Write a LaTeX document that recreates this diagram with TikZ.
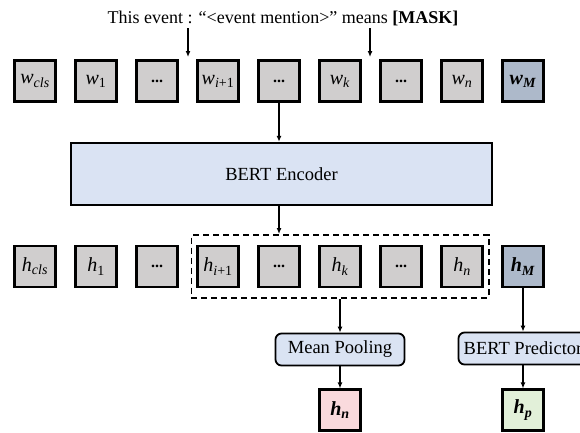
\documentclass[tikz,border=0pt]{standalone}
\usepackage{fontspec}
\setmainfont{Liberation Serif}
\usetikzlibrary{arrows.meta,fit}

\definecolor{tokgray}{HTML}{D0CECE}
\definecolor{maskblue}{HTML}{ADB9CA}
\definecolor{encblue}{HTML}{DAE3F3}
\definecolor{outpink}{HTML}{FADADD}
\definecolor{outgreen}{HTML}{E2F0D9}

\newcommand{\tok}[2]{\textit{#1}\textsubscript{#2}}
\newcommand{\btok}[2]{\textbf{\textit{#1}}\textsubscript{\textbf{\textit{#2}}}}
\newcommand{\tdots}{{\fontsize{16}{16}\selectfont\bfseries ...}}

\tikzset{
  tokbox/.style={draw, line width=2.1pt, fill=tokgray, minimum width=41pt,
    minimum height=41pt, inner sep=0pt, font=\fontsize{20}{22}\selectfont},
  maskbox/.style={tokbox, fill=maskblue},
  modbox/.style={draw, line width=1.8pt, fill=encblue, rounded corners=6pt,
    minimum width=129pt, minimum height=32pt, inner sep=0pt,
    font=\fontsize{18.5}{20}\selectfont},
  flow/.style={line width=1.3pt, -{Latex[length=6pt,width=5pt]}},
}

\begin{document}
\begin{tikzpicture}[x=1pt,y=-1pt]
\useasboundingbox (0,0) rectangle (580,432);

% prompt sentence and the two insertion arrows
\node[anchor=base, font=\fontsize{18}{20}\selectfont, inner sep=0pt] (prompt) at (283,23)
  {This event : “<event mention>” means \textbf{[MASK]}};
\coordinate (pa1) at (188,28);
\coordinate (pb1) at (188,57);
\coordinate (pa2) at (370,28);
\coordinate (pb2) at (370,57);
\draw[flow] (pa1) -- (pb1);
\draw[flow] (pa2) -- (pb2);

% input tokens
\node[tokbox] (w1) at (35,81)  {\tok{w}{\textit{cls}}};
\node[tokbox] (w2) at (96,81)  {\tok{w}{1}};
\node[tokbox] (w3) at (157,81) {\tdots};
\node[tokbox] (w4) at (218,81) {\tok{w}{\textit{i}+1}};
\node[tokbox] (w5) at (279,81) {\tdots};
\node[tokbox] (w6) at (340,81) {\tok{w}{\textit{k}}};
\node[tokbox] (w7) at (401,81) {\tdots};
\node[tokbox] (w8) at (462,81) {\tok{w}{\textit{n}}};
\node[maskbox] (w9) at (523,81) {\btok{w}{M}};

% encoder
\node[draw, line width=2.4pt, fill=encblue, minimum width=421pt, minimum height=62pt,
  inner sep=0pt, font=\fontsize{18.5}{20}\selectfont] (enc) at (281.5,174) {BERT Encoder};
\draw[flow] (w5.south) -- (w5 |- enc.north);

% hidden states
\node[tokbox] (h1) at (35,266.5)  {\tok{h}{\textit{cls}}};
\node[tokbox] (h2) at (96,266.5)  {\tok{h}{1}};
\node[tokbox] (h3) at (157,266.5) {\tdots};
\node[tokbox] (h4) at (218,266.5) {\tok{h}{\textit{i}+1}};
\node[tokbox] (h5) at (279,266.5) {\tdots};
\node[tokbox] (h6) at (340,266.5) {\tok{h}{\textit{k}}};
\node[tokbox] (h7) at (401,266.5) {\tdots};
\node[tokbox] (h8) at (462,266.5) {\tok{h}{\textit{n}}};
\node[maskbox] (h9) at (523,266.5) {\btok{h}{M}};

% span of the event mention
\node[draw, dashed, dash pattern=on 6pt off 4pt, line width=1.9pt, inner xsep=5pt,
  inner ysep=10pt, fit=(h4)(h8)] (span) {};
\draw[flow] (h5 |- enc.south) -- (h5 |- span.north);

% pooling and prediction heads
\node[modbox] (pool) at (340,349.5) {Mean Pooling};
\node[modbox] (pred) at (523,348.5) {BERT Predictor};
\draw[flow] (span.south) -- (pool.north);
\draw[flow] (h9.south) -- (pred.north);

% outputs
\node[tokbox, fill=outpink] (hn) at (340,410) {\btok{h}{n}};
\node[tokbox, fill=outgreen] (hp) at (523,410) {\btok{h}{p}};
\draw[flow] (pool.south) -- (hn.north);
\draw[flow] (pred.south) -- (hp.north);
\end{tikzpicture}
\end{document}
